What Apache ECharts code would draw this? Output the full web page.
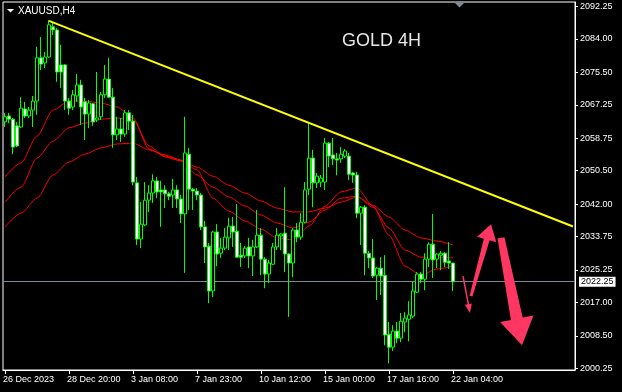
<!DOCTYPE html>
<html><head><meta charset="utf-8">
<script src="https://cdn.jsdelivr.net/npm/echarts@6/dist/echarts.min.js"></script>
<style>html,body{margin:0;padding:0;background:#000;}#c{width:622px;height:392px;}</style>
</head><body><div id="c"></div>
<script>
// ---- data ----
const xTickBars = [0, 16, 32, 48, 64, 80, 96, 112];
const xTickLabels = ['26 Dec 2023', '28 Dec 20:00', '3 Jan 08:00', '7 Jan 23:00', '10 Jan 12:00', '15 Jan 00:00', '17 Jan 16:00', '22 Jan 04:00'];
const yTickValues = [2000.25, 2008.50, 2017.00, 2025.25, 2033.75, 2042.00, 2050.50, 2058.75, 2067.25, 2075.50, 2084.00, 2092.25];
const slotCount = 143;

const opens = [2062.9,2064.4,2063.6,2061.9,2061.6,2066.2,2064.4,2065.9,2068.2,2079.2,2077.9,2079.4,2087.1,2086.3,2077.4,2077.4,2068.2,2066.7,2069.5,2072.3,
2068.0,2064.9,2067.5,2063.4,2064.2,2069.8,2073.8,2069.2,2059.6,2061.1,2059.8,2065.2,2063.1,2047.4,2033.1,2036.7,2043.0,2044.8,2047.9,2045.6,
2045.6,2044.6,2044.3,2045.6,2043.3,2039.5,2054.7,2045.8,2045.3,2044.3,2036.2,2031.3,2019.9,2034.9,2029.5,2030.8,2033.4,2036.4,2035.1,2029.0,
2028.8,2031.1,2028.8,2031.1,2034.1,2028.0,2024.2,2026.7,2031.1,2033.9,2034.6,2029.3,2027.0,2035.4,2033.6,2037.4,2045.8,2053.7,2047.4,2047.6,
2047.6,2057.5,2054.5,2053.5,2053.5,2054.2,2054.2,2049.9,2049.4,2039.7,2041.2,2029.5,2028.3,2023.9,2025.7,2023.9,2008.9,2005.6,2009.7,2007.9,
2012.0,2012.7,2013.5,2019.6,2024.2,2022.9,2028.0,2031.8,2028.0,2029.0,2029.5,2027.5,2027.0];
const highs = [2065.2,2065.2,2063.9,2062.9,2069.2,2068.0,2066.7,2069.5,2082.0,2084.5,2080.7,2088.8,2088.3,2086.8,2082.5,2077.6,2069.0,2071.0,2075.1,2073.6,
2069.0,2068.5,2067.7,2075.6,2070.5,2077.4,2079.2,2071.5,2064.2,2063.9,2065.9,2065.9,2064.7,2048.9,2042.5,2047.6,2046.8,2049.6,2048.9,2047.9,
2046.8,2045.1,2048.4,2046.8,2044.3,2064.2,2056.3,2046.1,2046.1,2044.8,2037.7,2032.1,2035.2,2036.9,2033.4,2035.9,2038.5,2038.7,2042.0,2032.1,
2031.3,2033.4,2032.9,2040.5,2035.9,2028.5,2027.8,2032.1,2035.9,2034.6,2046.3,2029.5,2035.9,2037.2,2039.7,2047.6,2062.6,2055.8,2049.9,2049.4,
2058.8,2057.8,2058.8,2055.0,2056.5,2056.0,2055.0,2050.2,2050.2,2041.5,2041.7,2030.1,2033.1,2026.0,2028.5,2029.0,2012.0,2011.2,2012.0,2014.3,
2014.5,2017.3,2022.2,2024.7,2024.7,2029.5,2032.3,2039.5,2029.5,2030.1,2029.8,2032.3,2027.0];
const lows = [2061.6,2062.6,2054.7,2056.5,2061.3,2063.9,2063.9,2061.6,2064.7,2076.1,2076.6,2079.2,2085.0,2073.1,2071.5,2065.9,2064.7,2065.9,2068.0,2062.1,
2058.3,2061.3,2061.9,2062.9,2063.4,2069.0,2069.0,2056.3,2058.3,2057.8,2059.1,2060.8,2046.8,2031.6,2030.8,2036.4,2040.0,2042.3,2043.5,2036.2,
2041.0,2043.0,2041.0,2041.0,2037.2,2024.5,2040.5,2040.5,2043.0,2035.4,2027.0,2016.8,2018.3,2026.2,2028.3,2030.3,2030.3,2031.1,2028.3,2026.0,
2028.3,2025.7,2023.7,2030.8,2023.9,2020.6,2021.9,2026.5,2030.3,2030.3,2024.7,2013.3,2023.4,2032.3,2032.9,2037.2,2044.3,2041.2,2046.1,2046.3,
2045.6,2051.4,2051.9,2049.3,2052.5,2053.7,2048.1,2047.4,2038.4,2031.6,2023.9,2025.7,2023.2,2017.6,2018.9,2006.1,2001.5,2004.6,2006.6,2006.9,
2009.4,2007.1,2013.0,2019.4,2021.9,2020.1,2026.0,2023.2,2025.7,2025.2,2026.0,2025.5,2019.9];
const closes = [2064.2,2063.6,2056.5,2056.8,2066.4,2064.4,2065.9,2068.2,2079.2,2077.6,2079.4,2087.6,2086.3,2075.6,2075.6,2068.2,2066.4,2069.8,2072.3,2066.7,
2064.9,2067.7,2062.9,2063.9,2069.8,2073.8,2069.2,2059.6,2061.1,2059.8,2065.2,2063.1,2047.6,2033.1,2036.9,2043.0,2044.8,2047.9,2045.1,2045.1,
2044.6,2044.0,2045.6,2043.3,2039.5,2055.0,2045.8,2045.3,2044.3,2036.2,2031.1,2019.9,2034.9,2029.3,2030.8,2033.6,2036.4,2034.9,2028.5,2028.5,
2030.8,2028.8,2031.1,2034.1,2028.0,2024.2,2027.0,2031.1,2034.1,2034.4,2029.3,2027.0,2035.4,2033.6,2037.4,2045.6,2053.7,2047.4,2049.1,2048.6,
2057.5,2054.2,2053.5,2053.2,2054.7,2055.5,2049.6,2049.4,2039.7,2041.2,2029.5,2028.3,2023.7,2025.7,2023.7,2008.7,2005.6,2009.7,2007.9,2012.2,
2013.0,2013.8,2019.9,2024.2,2022.9,2028.0,2031.8,2027.8,2029.3,2029.5,2027.2,2027.0,2022.25];

const maBars = [0,4,8,12,16,20,24,28,32,36,40,44,48,52,56,60,64,68,72,76,80,84,88,92,96,100,104,108,112];
const maFast = [2048.9,2052.5,2059.3,2065.9,2068.2,2068.2,2067.7,2066.7,2063.9,2056.0,2054.2,2053.0,2050.7,2043.5,2040.2,2037.7,2035.6,2033.4,2032.9,2036.4,2041.5,2045.1,2046.1,2041.5,2034.1,2026.2,2023.9,2025.5,2026.2];
const maMid  = [2042.5,2046.3,2053.7,2058.0,2061.4,2062.6,2063.6,2063.9,2063.4,2056.8,2054.0,2053.0,2049.4,2046.3,2043.8,2041.5,2039.2,2037.2,2035.9,2037.4,2040.5,2043.5,2044.0,2041.2,2035.9,2030.3,2028.5,2028.5,2028.3];
const maSlow = [2036.2,2039.7,2043.5,2049.4,2052.7,2054.7,2056.3,2057.3,2057.5,2055.8,2054.5,2053.2,2051.4,2049.1,2046.8,2044.8,2042.8,2041.0,2040.0,2040.0,2041.0,2042.5,2043.8,2041.7,2038.7,2035.4,2033.4,2032.6,2031.6];

const trendBars = [11, 142];
const trendValues = [2088.6, 2036.3];
const lastPrice = 2022.25;

// hand-drawn arrows: [bar position, price] from -> to
const arrowFrom = [[114.5, 2023.7], [116.5, 2018.6], [124.0, 2033.4]];
const arrowTo   = [[116.25, 2014.3], [121.5, 2036.9], [129.25, 2006.1]];

// ---- chart ----
const cats = Array.from({length: slotCount}, (_, i) => String(i));
const candles = opens.map((o, i) => [o, closes[i], lows[i], highs[i]]);
const pairs = (xs, ys) => xs.map((x, i) => [x, ys[i]]);
const FONT = '"Liberation Sans", Arial, sans-serif';

const chart = echarts.init(document.getElementById('c'), null, {renderer: 'canvas'});
const maStyle = {type: 'line', symbol: 'none', smooth: 0.25, smoothMonotone: 'x', z: 1, lineStyle: {color: '#ff0000', width: 1}};
const option = {
  backgroundColor: '#000',
  animation: false,
  grid: {left: 3, top: 2, right: 47, bottom: 22, show: true, borderColor: '#fff', borderWidth: 1,
         containLabel: false, outerBoundsMode: 'none'},
  xAxis: {
    type: 'category', data: cats, boundaryGap: true,
    axisLine: {show: true, lineStyle: {color: '#fff', width: 1}},
    axisTick: {show: true, alignWithLabel: true, length: 4, interval: (i) => xTickBars.includes(i), lineStyle: {color: '#fff'}},
    axisLabel: {show: true, interval: (i) => xTickBars.includes(i), formatter: (v, i) => xTickLabels[xTickBars.indexOf(+v)] || '',
                color: '#fff', fontSize: 9, fontFamily: FONT, align: 'left', margin: 5, padding: [0, 0, 0, -2]},
    splitLine: {show: false}
  },
  yAxis: {
    type: 'value', position: 'right', min: 1999.8, max: 2093.4, scale: true,
    axisLine: {show: true, lineStyle: {color: '#fff', width: 1}},
    axisTick: {show: true, length: 3, customValues: yTickValues, lineStyle: {color: '#fff'}},
    axisLabel: {show: true, customValues: yTickValues, formatter: (v) => Number(v).toFixed(2), color: '#fff', fontSize: 9, fontFamily: FONT, margin: 5},
    splitLine: {show: false}
  },
  series: [
    Object.assign({data: pairs(maBars, maSlow)}, maStyle),
    Object.assign({data: pairs(maBars, maMid)}, maStyle),
    Object.assign({data: pairs(maBars, maFast)}, maStyle),
    {type: 'candlestick', data: candles, barWidth: 3, z: 3,
     itemStyle: {color: '#000', color0: '#fff', borderColor: '#00ff00', borderColor0: '#00ff00', borderWidth: 1},
     markLine: {silent: true, symbol: 'none', z: 2, data: [{yAxis: lastPrice}],
       lineStyle: {color: '#7d8a97', width: 1, type: 'solid'},
       label: {position: 'end', formatter: lastPrice.toFixed(2), backgroundColor: '#fff', color: '#000',
               fontSize: 9, fontFamily: FONT, padding: [1, 2, 0, 2], distance: 4}}},
    {type: 'line', data: pairs(trendBars, trendValues), symbol: 'none', z: 4, lineStyle: {color: '#ffff00', width: 2}}
  ]
};
chart.setOption(option);

// arrows as polygons placed through the chart's own scales
const a0 = chart.convertToPixel({gridIndex: 0}, [0, lastPrice]);
const a1 = chart.convertToPixel({gridIndex: 0}, [1, lastPrice]);
const toPx = (pt) => [a0[0] + pt[0] * (a1[0] - a0[0]), chart.convertToPixel({gridIndex: 0}, [0, pt[1]])[1]];
const arrowShapes = [{w0: 1.5, w1: 1.5, hw: 7, hl: 9}, {w0: 3, w1: 6, hw: 20, hl: 16}, {w0: 7, w1: 12, hw: 34, hl: 27}];
function arrowPoly(S, T, s) {
  const dx = T[0] - S[0], dy = T[1] - S[1], L = Math.hypot(dx, dy);
  const ux = dx / L, uy = dy / L, nx = -uy, ny = ux;
  const B = [T[0] - ux * s.hl, T[1] - uy * s.hl];
  return [
    [S[0] + nx * s.w0 / 2, S[1] + ny * s.w0 / 2],
    [B[0] + nx * s.w1 / 2, B[1] + ny * s.w1 / 2],
    [B[0] + nx * s.hw / 2, B[1] + ny * s.hw / 2],
    [T[0], T[1]],
    [B[0] - nx * s.hw / 2, B[1] - ny * s.hw / 2],
    [B[0] - nx * s.w1 / 2, B[1] - ny * s.w1 / 2],
    [S[0] - nx * s.w0 / 2, S[1] - ny * s.w0 / 2]
  ];
}
const arrows = arrowFrom.map((f, i) => ({
  type: 'polygon', z: 100, shape: {points: arrowPoly(toPx(f), toPx(arrowTo[i]), arrowShapes[i])},
  style: {fill: '#ff3562'}
}));

chart.setOption({graphic: [
  {type: 'polygon', z: 100, shape: {points: [[7, 9], [14, 9], [10.5, 12.5]]}, style: {fill: '#fff'}},
  {type: 'text', z: 100, x: 18, y: 11, style: {text: 'XAUUSD,H4', fill: '#fff', font: '10px ' + FONT, verticalAlign: 'middle'}},
  {type: 'text', z: 100, x: 342, y: 41, style: {text: 'GOLD 4H', fill: '#e6e6e6', font: '18px ' + FONT, verticalAlign: 'middle'}},
  {type: 'polygon', z: 100, shape: {points: [[455, 3], [464, 3], [459.5, 7.5]]}, style: {fill: '#7a8ea3'}},
  ...arrows
]});
</script>
</body></html>
